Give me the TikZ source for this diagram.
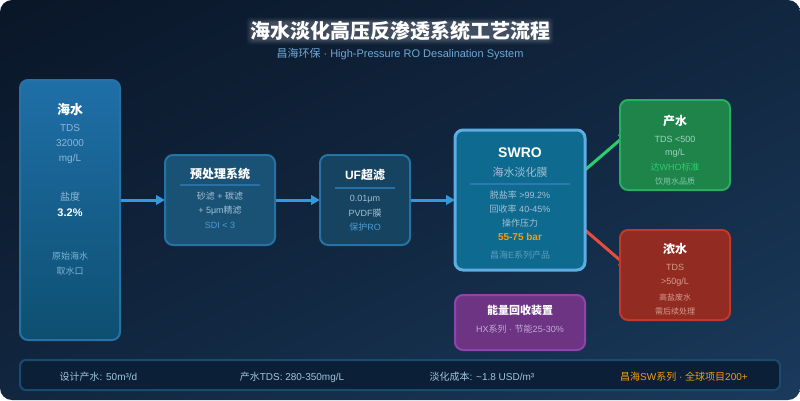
\documentclass[tikz,border=0pt]{standalone}
\usepackage{fontspec}
\setmainfont{Liberation Sans}
\newfontfamily\cjk{Noto Sans CJK SC}
\usetikzlibrary{arrows.meta}
\definecolor{bgA}{HTML}{0A1628}
\definecolor{bgB}{HTML}{11263F}
\definecolor{bgC}{HTML}{1A3A5C}
\definecolor{cBody}{HTML}{A3BFD4}
\definecolor{cBlue}{HTML}{5DADE2}
\definecolor{cDim}{HTML}{4F9BD0}
\definecolor{cSub}{HTML}{6FA8D6}
\definecolor{cArrow}{HTML}{3498DB}
\definecolor{cRule}{HTML}{2A6FA5}
\definecolor{cOrange}{HTML}{F39C12}
\definecolor{cBlueTop}{HTML}{1F6FA8}
\definecolor{cBlueBot}{HTML}{0D4F70}
\definecolor{cPre}{HTML}{1A5276}
\definecolor{cUF}{HTML}{154360}
\definecolor{cSW}{HTML}{0E6B8F}
\definecolor{cPurpleS}{HTML}{8E44AD}
\definecolor{cPurple}{HTML}{6C3483}
\definecolor{cGreenS}{HTML}{27AE60}
\definecolor{cGreen}{HTML}{1E8449}
\definecolor{cRedS}{HTML}{C0392B}
\definecolor{cRed}{HTML}{922B21}
\definecolor{cBar}{HTML}{1A4A6E}
\definecolor{cBarF}{HTML}{0B2036}
\definecolor{cGreenL}{HTML}{2ECC71}
\definecolor{cRedL}{HTML}{E74C3C}
\definecolor{cSeaT}{HTML}{8FB8D8}
\definecolor{cSeaL}{HTML}{7FB3D5}
\definecolor{cSWL}{HTML}{5A9FC0}
\definecolor{cPurpleT}{HTML}{C4AAD4}
\definecolor{cGreenT}{HTML}{A0D4C4}
\definecolor{cGreenD}{HTML}{84C8B0}
\definecolor{cRedT}{HTML}{D89A90}
\definecolor{cBarT}{HTML}{A0C4DE}
\pgfdeclareverticalshading{bgshade}{1000bp}{color(0bp)=(bgA); color(10bp)=(bgA); color(366bp)=(bgB); color(723bp)=(bgC); color(733bp)=(bgC)}
\pgfdeclarelayer{back}
\pgfdeclarelayer{conn}
\pgfsetlayers{back,conn,main}
\newcommand{\zh}[1]{{\cjk #1}}
\tikzset{
  x=1pt,y=-1pt,
  boxbase/.style={rectangle,rounded corners=8pt,line width=2pt,inner sep=0pt,outer sep=0pt},
  txt/.style={inner sep=0pt,align=center,anchor=center},
  head/.style={txt,font=\bfseries\fontsize{12}{14}\selectfont,text=white},
  body/.style={txt,font=\fontsize{9}{11}\selectfont,text=cBody},
  seatext/.style={txt,font=\fontsize{10}{12}\selectfont,text=cSeaT},
  tiny/.style={txt,font=\fontsize{8}{10}\selectfont},
  foot/.style={txt,font=\fontsize{10}{12}\selectfont,text=cBarT},
  flow/.style={line width=3pt,draw=cArrow,-{Triangle[length=9pt,width=9.5pt]}},
  rule/.style={line width=2pt,draw=cRule},
}
\begin{document}
\begin{tikzpicture}
\useasboundingbox (0,0) rectangle (800,400);
\begin{pgfonlayer}{back}
\fill[white] (0,0) rectangle (800,400);
\begin{scope}
\clip[rounded corners=12pt] (0,0) rectangle (800,400);
\node[inner sep=0pt,rotate=-153.43] (bg) at (400,200) {\pgfuseshading{bgshade}};
\end{scope}
\end{pgfonlayer}
% title halo
\foreach \e/\o in {0/.05,1/.05,2/.05,3/.04,4/.03,5/.02}
  \fill[white,opacity=\o,rounded corners=4pt] (251-\e,22-\e) rectangle (549+\e,40+\e);
\node[txt,text=white,font=\bfseries\fontsize{20}{24}\selectfont] (title) at (400,31) {\zh{海水淡化高压反渗透系统工艺流程}};
\node[txt,text=cSub,font=\fontsize{11}{13}\selectfont] (sub) at (400,54) {\zh{昌海环保} · High-Pressure RO Desalination System};
% boxes
\node[boxbase,draw=cArrow!75!black,top color=cBlueTop,bottom color=cBlueBot,minimum width=100pt,minimum height=260pt] (sea) at (70,210) {};
\node[boxbase,draw=cArrow!75!black,fill=cPre,minimum width=110pt,minimum height=90pt] (pre) at (220,200) {};
\node[boxbase,draw=cArrow!75!black,fill=cUF,minimum width=90pt,minimum height=90pt] (uf) at (365,200) {};
\node[boxbase,line width=3pt,draw=cBlue,fill=cSW,minimum width=130pt,minimum height=140pt] (swro) at (520,200) {};
\node[boxbase,draw=cPurpleS,fill=cPurple,minimum width=130pt,minimum height=55pt] (erd) at (520,322.5) {};
\node[boxbase,draw=cGreenS,fill=cGreen,minimum width=110pt,minimum height=90pt] (prod) at (675,145) {};
\node[boxbase,draw=cRedS,fill=cRed,minimum width=110pt,minimum height=90pt] (brine) at (675,275) {};
\node[boxbase,rounded corners=6pt,draw=cBar,fill=cBarF,minimum width=760pt,minimum height=30pt] (bar) at (400,375) {};
% connectors
\coordinate (gS) at (585,170);
\coordinate (gE) at (628,133);
\coordinate (rS) at (585,230);
\coordinate (rE) at (628,267);
\begin{pgfonlayer}{conn}
\draw[flow] (sea.east |- pre.west) -- (pre.west);
\draw[flow] (pre.east) -- (uf.west);
\draw[flow] (uf.east) -- (swro.west);
\draw[line width=3pt,draw=cGreenL,-{Triangle[length=9pt,width=10pt]}] (gS) -- (gE);
\draw[line width=3pt,draw=cRedL,-{Triangle[length=9pt,width=10pt]}] (rS) -- (rE);
\end{pgfonlayer}
% sea text
\node[head,font=\bfseries\fontsize{13}{15}\selectfont] (s1) at (70,110) {\zh{海水}};
\node[seatext] (s2) at (70,128.5) {TDS};
\node[seatext] (s3) at (70,143.5) {32000};
\node[seatext] (s4) at (70,158.5) {mg/L};
\node[seatext] (s5) at (70,196.5) {\zh{盐度}};
\node[head,font=\bfseries\fontsize{11}{13}\selectfont] (s6) at (70,213) {3.2\%};
\node[body,text=cSeaL] (s7) at (70,256.5) {\zh{原始海水}};
\node[body,text=cSeaL] (s8) at (70,271.5) {\zh{取水口}};
% pre
\node[head] (p1) at (220,173.5) {\zh{预处理系统}};
\draw[rule] (180,185) -- (260,185);
\node[body] (p2) at (220,196.5) {\zh{砂滤} + \zh{碳滤}};
\node[body] (p3) at (220,211) {+ 5μm\zh{精滤}};
\node[body,text=cDim] (p4) at (220,225) {SDI < 3};
% uf
\node[head] (u1) at (365,175.5) {UF\zh{超滤}};
\draw[rule] (335,188) -- (395,188);
\node[body] (u2) at (365,199) {0.01μm};
\node[body] (u3) at (365,213) {PVDF\zh{膜}};
\node[body,text=cDim] (u4) at (365,227) {\zh{保护}RO};
% swro
\node[head,font=\bfseries\fontsize{14}{16}\selectfont] (w1) at (520,153) {SWRO};
\node[body,font=\fontsize{11}{13}\selectfont] (w2) at (520,172) {\zh{海水淡化膜}};
\draw[rule,draw=cArrow!80!black] (470,184) -- (570,184);
\node[body] (w3) at (520,195) {\zh{脱盐率} >99.2\%};
\node[body] (w4) at (520,209) {\zh{回收率} 40-45\%};
\node[body] (w5) at (520,223) {\zh{操作压力}};
\node[body,text=cOrange,font=\bfseries\fontsize{10}{12}\selectfont] (w6) at (520,236.5) {55-75 bar};
\node[body,text=cSWL] (w7) at (520,255) {\zh{昌海}E\zh{系列产品}};
% erd
\node[head,font=\bfseries\fontsize{11}{13}\selectfont] (e1) at (520,310) {\zh{能量回收装置}};
\node[body,text=cPurpleT] (e2) at (520,329) {HX\zh{系列} · \zh{节能}25-30\%};
% product
\node[head] (d1) at (675,121) {\zh{产水}};
\node[body,text=cGreenT] (d2) at (675,139) {TDS <500};
\node[body,text=cGreenT] (d3) at (675,153) {mg/L};
\node[body,text=cGreenL] (d4) at (675,167) {\zh{达}WHO\zh{标准}};
\node[tiny,text=cGreenD] (d5) at (675,181) {\zh{饮用水品质}};
% brine
\node[head] (b1) at (675,249) {\zh{浓水}};
\node[body,text=cRedT] (b2) at (675,267) {TDS};
\node[body,text=cRedT] (b3) at (675,282) {>50g/L};
\node[tiny,text=cRedT] (b4) at (675,297) {\zh{高盐废水}};
\node[tiny,text=cRedT] (b5) at (675,311) {\zh{需后续处理}};
% bar
\node[foot] (f1) at (98.5,377) {\zh{设计产水}: 50m³/d};
\node[foot] (f2) at (292,377) {\zh{产水}TDS: 280-350mg/L};
\node[foot] (f3) at (482,377) {\zh{淡化成本}: \textasciitilde1.8 USD/m³};
\node[foot,text=cOrange] (f4) at (684,377) {\zh{昌海}SW\zh{系列} · \zh{全球项目}200+};
\end{tikzpicture}
\end{document}
